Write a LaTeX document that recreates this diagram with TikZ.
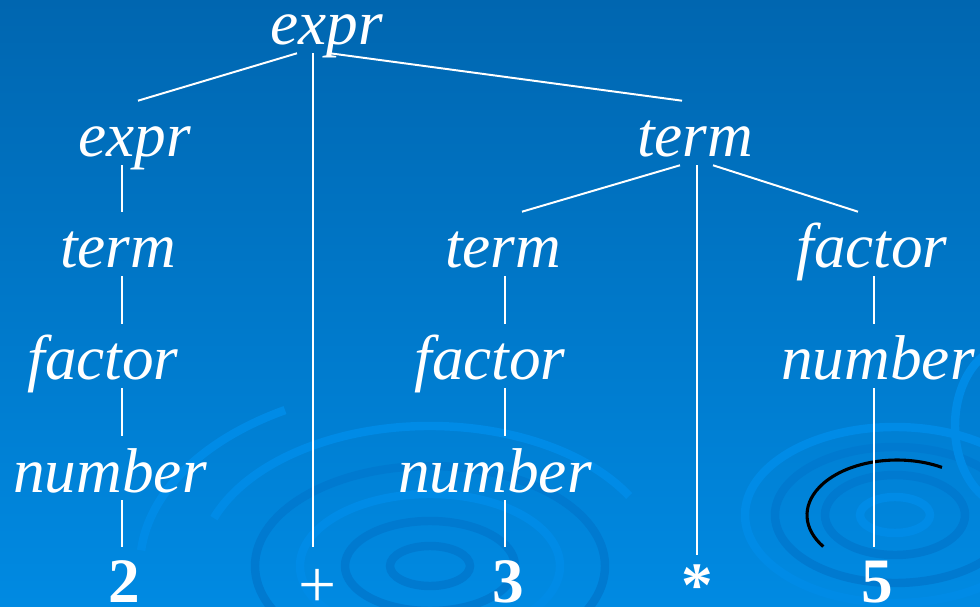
\documentclass[tikz,border=0pt]{standalone}
\usepackage{fontspec}
\setmainfont{Liberation Serif}
\usetikzlibrary{calc}
\definecolor{slideTop}{RGB}{0,102,176}
\definecolor{slideBottom}{RGB}{0,138,226}
\definecolor{rippleDark}{RGB}{0,122,208}
\definecolor{rippleLight}{RGB}{0,139,230}

\begin{document}
\begin{tikzpicture}[x=0.025cm, y=0.025cm,
  nonterm/.style={inner sep=0pt, anchor=base, text=white, text height=1.4cm,
                  text depth=0.2cm, font=\fontsize{45}{54}\selectfont\itshape},
  leaf/.style={inner sep=0pt, anchor=base, text=white, text height=1.375cm,
               text depth=0.2cm, font=\fontsize{45}{54}\selectfont\bfseries},
  branch/.style={draw=white, line width=1.4pt},
  ripple/.style={line width=6pt}
]
\useasboundingbox (0,0) rectangle (980,606);
\shade[top color=slideTop, bottom color=slideBottom] (0,0) rectangle (980,606);
\begin{scope}
\clip (0,0) rectangle (980,606);
\foreach \rx/\ry/\col in {40/20/rippleDark, 85/45/rippleDark, 130/72/rippleLight,
                          175/100/rippleDark}
  \draw[ripple, draw=\col] (430,40) ellipse [x radius=\rx, y radius=\ry];
\draw[ripple, draw=rippleLight] (430+230*cos 30,40+140*sin 30) arc [start angle=30, end angle=160, x radius=230, y radius=140];
\draw[ripple, draw=rippleLight] (430+290*cos 120,40+180*sin 120) arc [start angle=120, end angle=175, x radius=290, y radius=180];
\foreach \rx/\ry/\col in {35/18/rippleLight, 70/40/rippleDark, 120/68/rippleDark,
                          150/88/rippleLight}
  \draw[ripple, draw=\col] (895,91) ellipse [x radius=\rx, y radius=\ry];
\draw[ripple, draw=rippleLight] (1010,180) ellipse [x radius=55, y radius=80];
\draw[black, line width=2.2pt] (942,138.6) arc [start angle=60, end angle=215, x radius=90, y radius=55];
\end{scope}

\node[nonterm] (e1) at (327,561) {expr};
\node[nonterm] (e2) at (135,449) {expr};
\node[nonterm] (t2) at (695,449) {term};
\node[nonterm] (t3a) at (118,338) {term};
\node[nonterm] (t3b) at (503,338) {term};
\node[nonterm] (f3) at (872,338) {factor};
\node[nonterm] (f4a) at (103,226) {factor};
\node[nonterm] (f4b) at (490,226) {factor};
\node[nonterm] (n4) at (878,226) {number};
\node[nonterm] (n5a) at (110,114) {number};
\node[nonterm] (n5b) at (495,114) {number};
\node[leaf] (two) at (124,4) {2};
\node[leaf, font=\fontsize{48}{56}\selectfont] (plus) at (318,-1) {+};
\node[leaf] (three) at (508,4) {3};
\node[leaf] (times) at (697,0) {*};
\node[leaf] (five) at (877,4) {5};

\draw[branch] ($(e1.south)+(-30,0)$) -- ($(e2.north)+(3,0)$);
\draw[branch] ($(e1.south)+(-14,0)$) -- ($(plus.north)+(-5,5)$);
\draw[branch] ($(e1.south)+(3,0)$) -- ($(t2.north)+(-13,0)$);
\draw[branch] ($(e2.south)+(-13,0)$) -- ($(t3a.north)+(4,0)$);
\draw[branch] ($(t3a.south)+(4,0)$) -- ($(f4a.north)+(19,0)$);
\draw[branch] ($(f4a.south)+(19,0)$) -- ($(n5a.north)+(12,0)$);
\draw[branch] ($(n5a.south)+(12,0)$) -- ($(two.north)+(-2,0)$);
\draw[branch] ($(t2.south)+(-15,0)$) -- ($(t3b.north)+(19,0)$);
\draw[branch] ($(t2.south)+(2,0)$) -- ($(times.north)+(0,-4)$);
\draw[branch] ($(t2.south)+(18,0)$) -- ($(f3.north)+(-14,0)$);
\draw[branch] ($(t3b.south)+(2,0)$) -- ($(f4b.north)+(15,0)$);
\draw[branch] ($(f4b.south)+(15,0)$) -- ($(n5b.north)+(10,0)$);
\draw[branch] ($(n5b.south)+(10,0)$) -- ($(three.north)+(-3,0)$);
\draw[branch] ($(f3.south)+(2,0)$) -- ($(n4.north)+(-4,0)$);
\draw[branch] ($(n4.south)+(-4,0)$) -- ($(five.north)+(-3,0)$);
\end{tikzpicture}
\end{document}
